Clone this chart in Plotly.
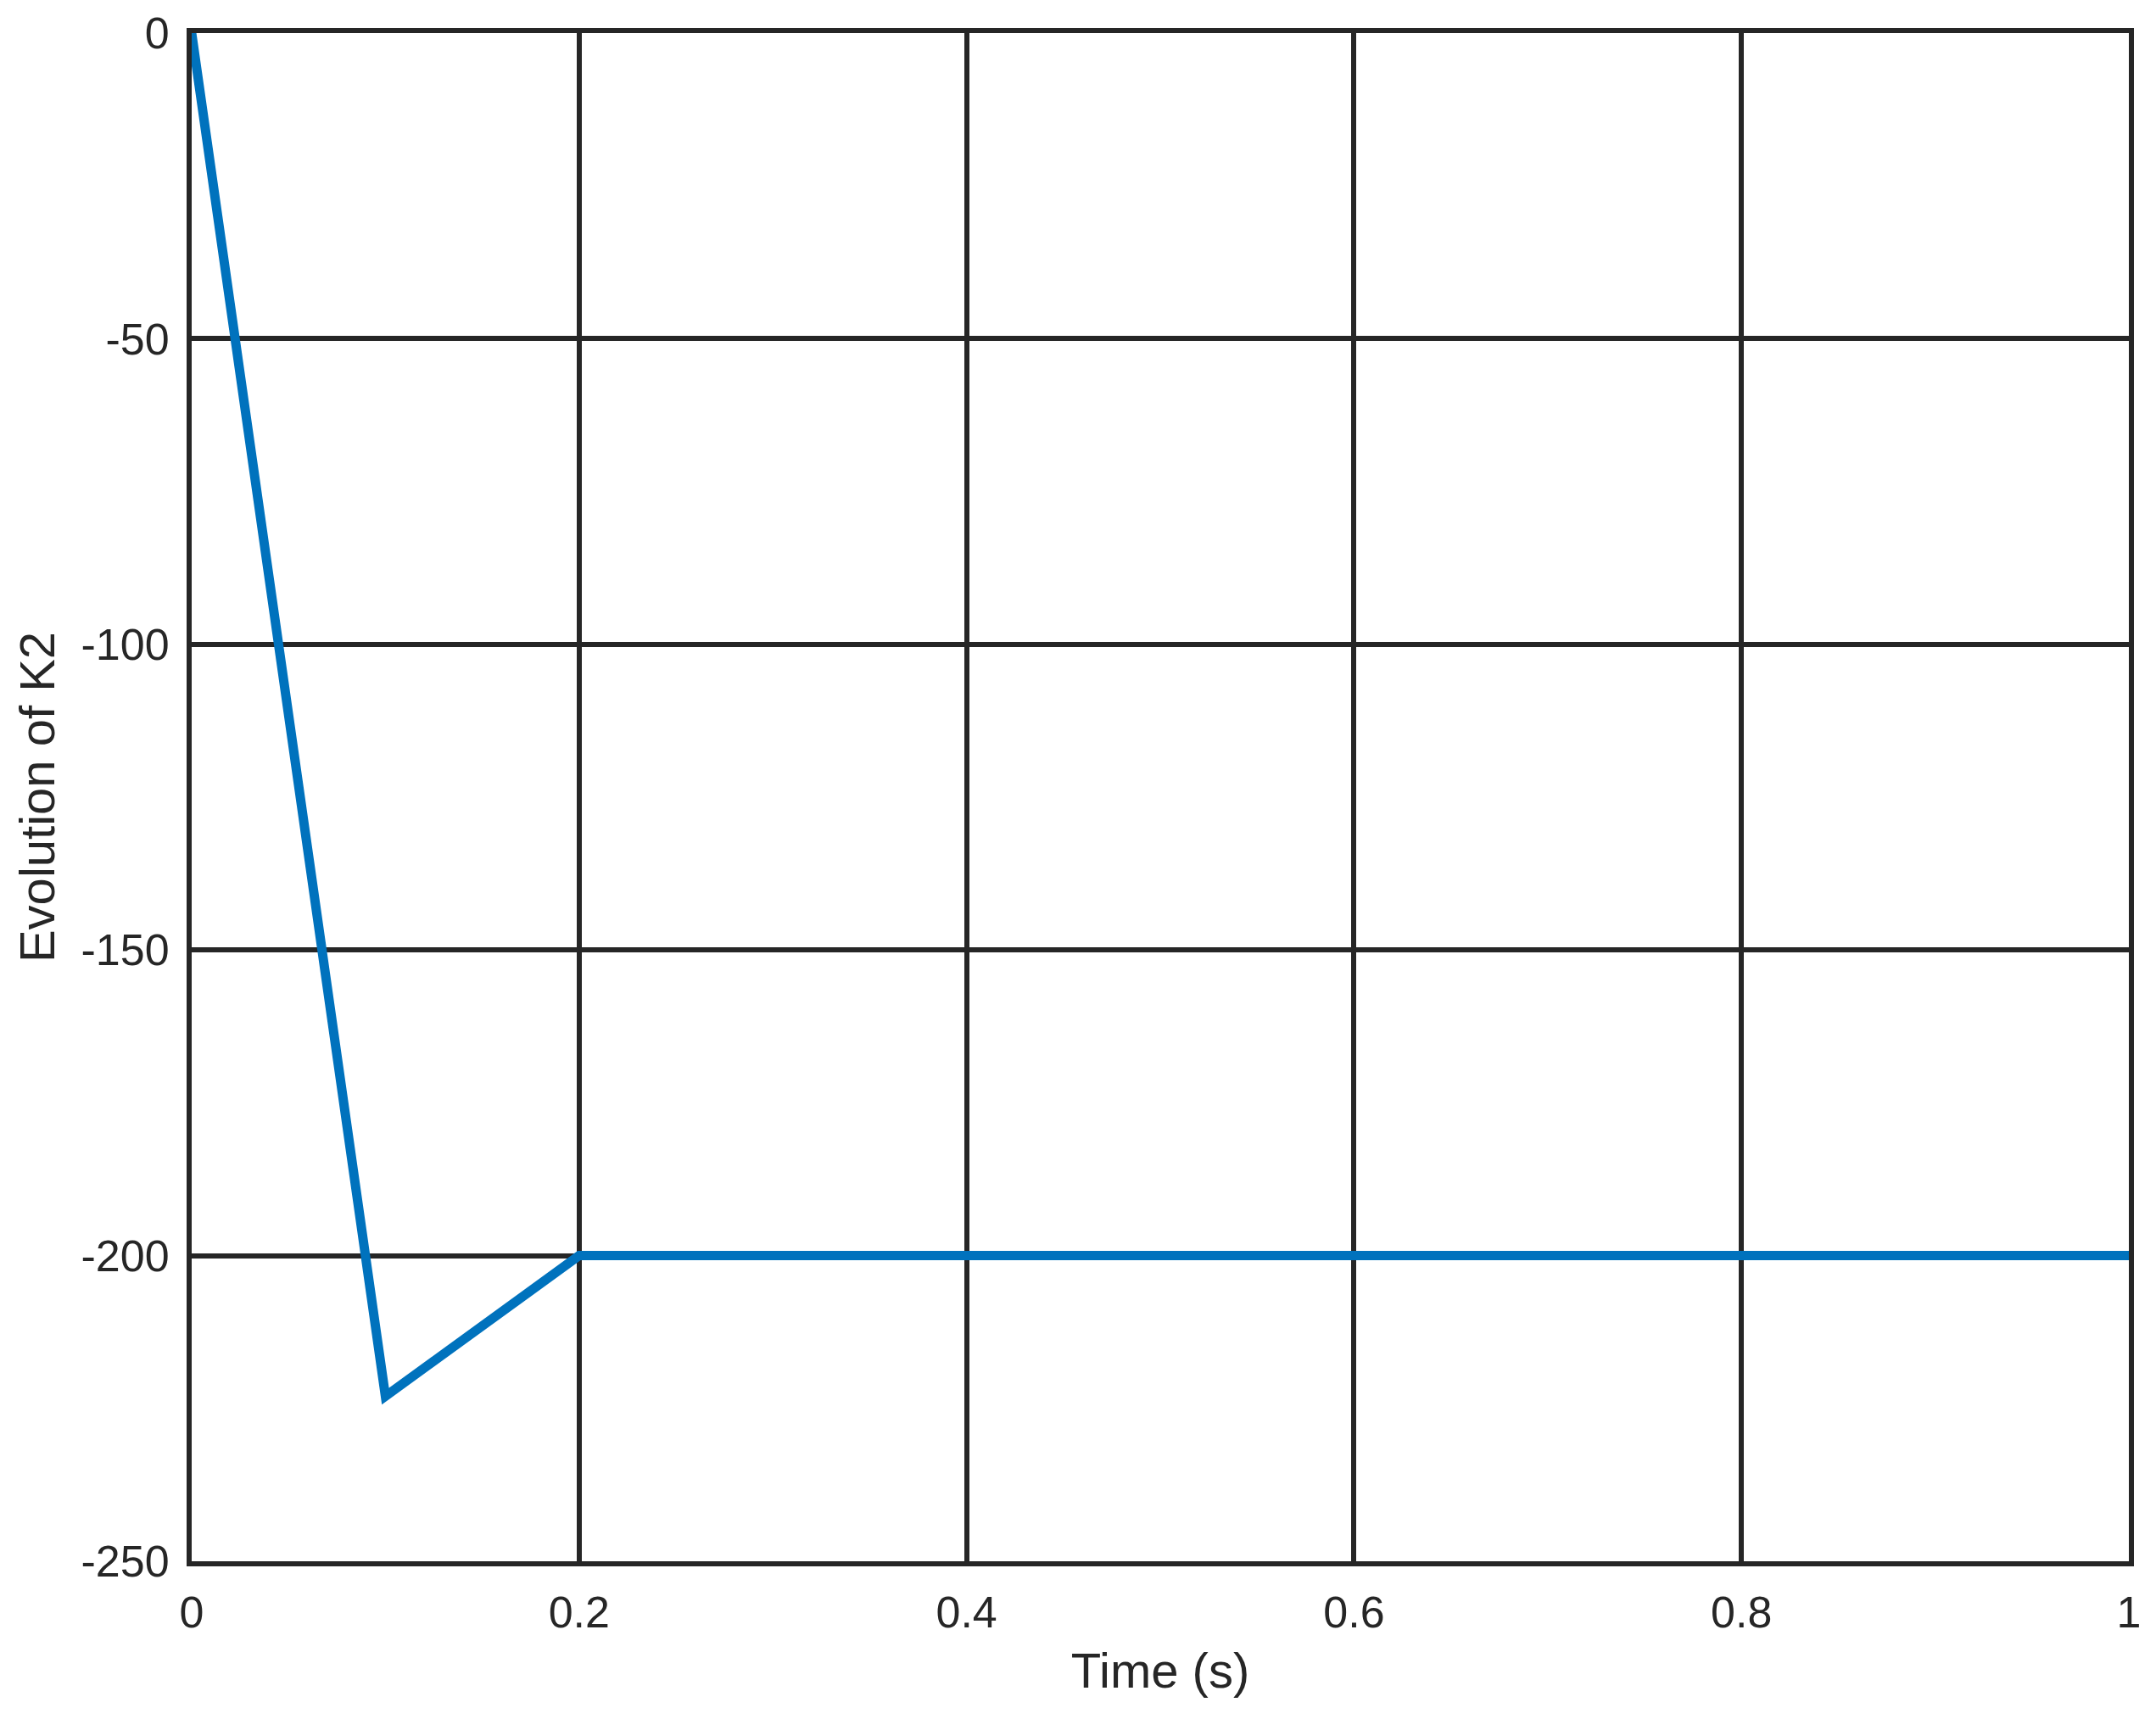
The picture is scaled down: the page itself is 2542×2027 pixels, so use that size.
import plotly.graph_objects as go

# data
time_s = [0, 0.1, 0.2, 1.0]
k2 = [0, -223, -200, -200]

x_ticks = [0, 0.2, 0.4, 0.6, 0.8, 1]
x_labels = ["0", "0.2", "0.4", "0.6", "0.8", "1"]
y_ticks = [-250, -200, -150, -100, -50, 0]
y_labels = ["-250", "-200", "-150", "-100", "-50", "0"]

ink = "#262626"
font = "Liberation Sans, Arial, Helvetica, sans-serif"

fig = go.Figure()
fig.add_trace(go.Scatter(x=time_s, y=k2, mode="lines",
                         line=dict(color="#0072BD", width=11),
                         showlegend=False))

axis_common = dict(
    showgrid=True, gridcolor=ink, gridwidth=6,
    showline=True, linecolor=ink, linewidth=6, mirror=True,
    zeroline=False,
    ticks="outside", tickcolor="rgba(0,0,0,0)",
    tickfont=dict(family=font, size=52, color=ink),
)

fig.update_xaxes(range=[0, 1], tickvals=x_ticks, ticktext=x_labels, ticklen=10,
                 title=dict(text="Time (s)", font=dict(family=font, size=58, color=ink),
                            standoff=22),
                 **axis_common)
fig.update_yaxes(range=[-250, 0], tickvals=y_ticks, ticktext=y_labels, ticklen=10,
                 title=dict(text="Evolution of K2", font=dict(family=font, size=58, color=ink),
                            standoff=14),
                 **axis_common)

# the page body adds an 8px margin, so the figure is 16px smaller than the window
fig.update_layout(
    width=2526, height=2011,
    margin=dict(l=218, r=24, t=31, b=178, autoexpand=False),
    plot_bgcolor="white", paper_bgcolor="white",
)

fig.write_html("out.html")
